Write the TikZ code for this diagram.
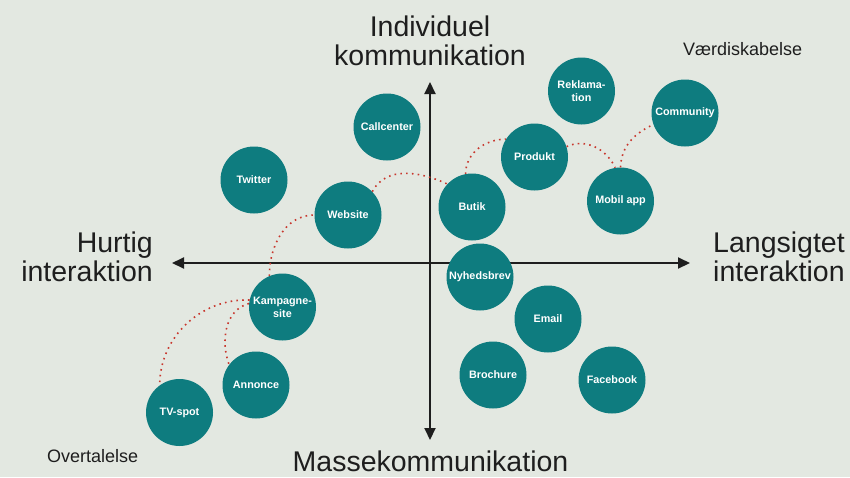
\documentclass[tikz,border=0pt]{standalone}
\usepackage{fontspec}
\setmainfont{Liberation Sans}
\usetikzlibrary{arrows.meta}

\definecolor{bgpaper}{HTML}{E3E8E1}
\definecolor{channel}{HTML}{0E7C7F}
\definecolor{linkred}{HTML}{C8372D}
\definecolor{ink}{HTML}{1E1E1E}

\tikzset{
  channelnode/.style={circle, fill=channel, minimum size=67pt, inner sep=0pt,
    text=white, align=center, font=\bfseries\fontsize{10.8}{13}\selectfont},
  axislabel/.style={inner sep=0pt, text=ink, font=\fontsize{28.5}{29}\selectfont},
  cornerlabel/.style={inner sep=0pt, text=ink, font=\fontsize{18}{20}\selectfont},
  axisline/.style={line width=2pt, ink, {Triangle[length=12pt,width=11pt]}-{Triangle[length=12pt,width=11pt]}},
  link/.style={linkred, line width=1.6pt, dash pattern=on 1.6pt off 4.2pt}
}

\begin{document}
\begin{tikzpicture}[x=1pt,y=1pt]
  % canvas
  \fill[bgpaper] (0,0) rectangle (850,-477);
  \useasboundingbox (0,0) rectangle (850,-477);

  % axis end points
  \coordinate (axtop) at (430,-82);
  \coordinate (axbottom) at (430,-440);
  \coordinate (axleft) at (172,-263);
  \coordinate (axright) at (690,-263);

  \draw[axisline] (axbottom) -- (axtop);
  \draw[axisline] (axleft) -- (axright);

  % axis labels
  \node[axislabel, align=center] (indiv) at (430,-41) {Individuel\\kommunikation};
  \node[axislabel, anchor=base] (masse) at (430.5,-471) {Massekommunikation};
  \node[axislabel, align=right, anchor=east] (hurtig) at (153,-257) {Hurtig\\interaktion};
  \node[axislabel, align=left, anchor=west] (lang) at (713,-257) {Langsigtet\\interaktion};

  % corner labels
  \node[cornerlabel, anchor=base west] (vaerdi) at (683,-55) {Værdiskabelse};
  \node[cornerlabel, anchor=base west] (overt) at (47,-462) {Overtalelse};

  % channels
  \node[channelnode] (callcenter) at (387,-127) {Callcenter};
  \node[channelnode] (twitter) at (254,-180) {Twitter};
  \node[channelnode] (website) at (348,-215) {Website};
  \node[channelnode] (butik) at (472,-207) {Butik};
  \node[channelnode] (produkt) at (534.5,-157) {Produkt};
  \node[channelnode] (reklamation) at (581.5,-91) {Reklama-\\tion};
  \node[channelnode] (community) at (685,-113) {Community};
  \node[channelnode] (mobil) at (620.5,-201) {Mobil app};
  \node[channelnode] (kampagne) at (282.5,-307) {Kampagne-\\site};
  \node[channelnode] (annonce) at (256,-385) {Annonce};
  \node[channelnode] (tvspot) at (179.5,-412.5) {TV-spot};
  \node[channelnode] (nyhed) at (480,-277) {Nyhedsbrev};
  \node[channelnode] (email) at (548,-319) {Email};
  \node[channelnode] (brochure) at (493,-375) {Brochure};
  \node[channelnode] (facebook) at (612,-380) {Facebook};

  % dotted customer journey links
  \draw[link] (kampagne.113) to[out=90,in=180] (website.180);
  \draw[link] (website.44) to[out=62,in=155] (butik.137);
  \draw[link] (butik.101) to[out=90,in=180] (produkt.148);
  \draw[link] (produkt.18) to[out=25,in=115] (mobil.99);
  \draw[link] (mobil.90) to[out=88,in=205] (community.200);
  \draw[link] (kampagne.168) to[out=178,in=90] (tvspot.126);
  \draw[link] (kampagne.174) to[out=195,in=110] (annonce.143);
\end{tikzpicture}
\end{document}
